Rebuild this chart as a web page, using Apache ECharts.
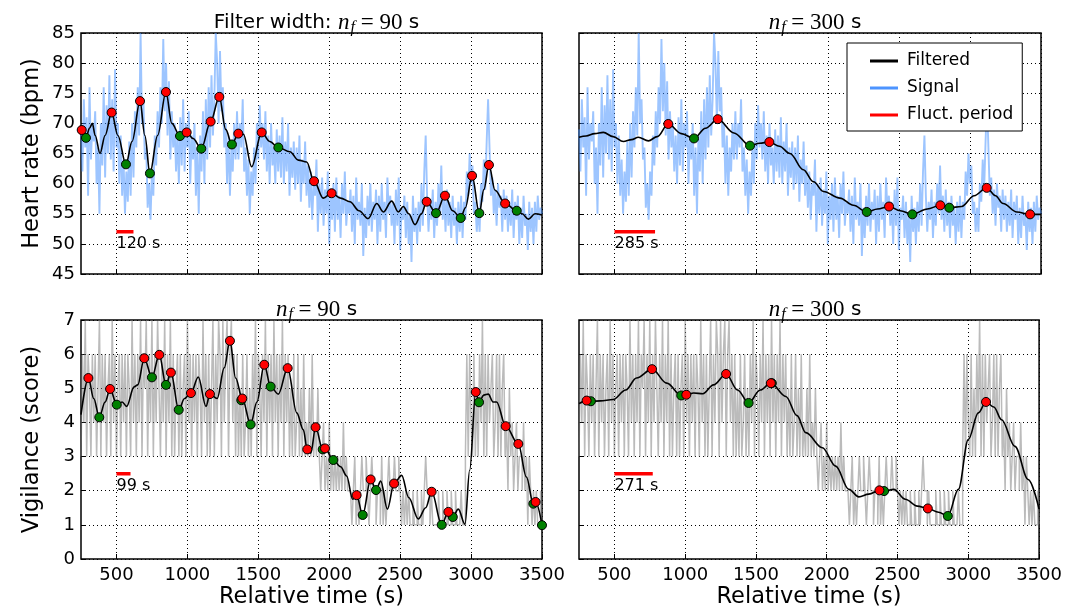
<!DOCTYPE html>
<html>
<head>
<meta charset="utf-8">
<script src="https://cdn.jsdelivr.net/npm/echarts@6/dist/echarts.min.js"></script>
<style>
  html, body { margin: 0; padding: 0; background: #fff; }
  #chart { width: 1065px; height: 610px; }
</style>
</head>
<body>
<div id="chart"></div>
<script>
// raw signals, one sample every 10 s starting at t = 250 s
var sigStart = 250;
var sigStep = 10;

var hrSignal = [
  69,62,74,66,71,58,76,64,70,67,
  72,60,66,55,70,63,76,61,73,65,
  78,64,74,62,79,66,70,60,68,58,
  64,55,62,57,67,58,70,61,72,66,
  76,68,85,70,74,64,66,56,60,54,
  62,58,68,63,72,66,76,70,84,72,
  80,68,77,64,72,66,70,62,68,60,
  71,63,74,62,70,66,72,60,68,64,
  70,58,66,55,68,62,72,60,74,64,
  76,66,78,68,74,85,80,70,82,72,
  76,66,70,60,68,58,66,62,70,64,
  72,64,70,66,74,62,66,58,64,55,
  62,58,66,60,70,64,73,66,70,64,
  72,62,68,60,70,63,66,60,69,62,
  68,61,71,60,67,62,70,58,66,61,
  67,59,66,60,68,57,64,60,67,58,
  63,56,62,54,60,58,64,52,60,55,
  61,53,59,55,62,50,58,54,60,52,
  61,54,58,51,60,55,62,53,57,55,
  59,52,58,50,61,54,57,53,60,48,
  56,51,58,53,60,52,57,54,59,50,
  58,52,60,54,57,51,61,55,58,53,
  57,50,59,53,61,49,56,54,58,51,
  57,50,55,47,58,52,56,50,57,52,
  60,53,62,68,58,52,57,54,59,51,
  57,53,60,55,63,54,58,52,59,53,
  57,51,58,53,56,50,57,52,58,51,
  57,54,62,58,65,60,63,55,57,52,
  56,52,60,57,64,59,67,74,66,58,
  61,55,59,53,60,56,58,52,59,54,
  58,52,57,53,59,51,57,54,58,50,
  56,51,58,53,55,49,57,52,56,50,
  57,52,58,54,56,55
];

var vigSignal = [
  3,6,4,7,3,6,5,3,6,4,
  6,3,5,7,3,6,4,6,3,5,
  6,3,7,4,6,3,5,6,3,6,
  4,6,3,6,5,3,7,4,6,3,
  6,4,7,3,6,5,7,3,6,4,
  7,3,6,4,7,5,3,6,4,7,
  3,6,4,7,3,6,3,5,6,3,
  6,3,5,6,3,7,4,6,3,6,
  4,6,3,6,5,3,7,4,6,3,
  6,3,5,7,3,6,4,7,6,3,
  7,4,6,7,3,6,7,4,6,3,
  6,3,5,3,6,3,4,6,3,5,
  3,6,4,7,3,6,5,3,6,4,
  7,3,6,4,6,3,7,4,6,3,
  6,4,7,3,6,4,6,3,5,3,
  6,3,4,6,3,5,3,6,3,4,
  3,5,3,6,3,4,3,5,3,2,
  3,4,2,3,2,4,2,3,2,3,
  2,3,2,3,2,4,2,3,2,2,
  2,1,2,3,1,2,1,2,3,2,
  2,3,2,1,2,3,2,2,1,2,
  2,1,3,1,2,1,2,3,2,2,
  2,3,2,2,3,2,1,2,1,2,
  1,2,1,1,2,1,1,2,1,1,
  2,1,2,3,2,2,1,2,1,1,
  1,1,2,1,1,2,1,1,2,1,
  1,2,1,1,2,1,1,1,2,1,
  1,3,6,3,6,4,3,6,3,5,
  3,6,4,7,3,6,3,6,4,5,
  6,3,4,6,3,6,3,5,6,3,
  4,2,5,3,4,2,3,4,2,3,
  3,2,4,2,3,1,3,2,1,2,
  1,2,1,1,2,1
];

// filtered curves [time, value]
var hrFilt90 = [
  [250,69.2],[285,67.6],[310,69.2],[330,70],[350,68],[384,65.0],[420,68],[466,71.8],
  [510,68],[567,63.2],[610,67],[666,73.7],[700,68],[736,61.7],[790,68],[849,75.2],
  [890,70],[948,67.9],[995,68.5],[1040,67.5],[1098,65.8],[1164,70.3],[1225,74.4],
  [1270,69],[1314,66.5],[1359,68.3],[1395,68.2],[1453,62.8],[1524,68.5],[1580,67],
  [1641,66.0],[1723,65.3],[1782,63.9],[1841,63.6],[1893,60.4],[1958,57.6],[2017,58.4],
  [2080,57.6],[2146,57.0],[2210,55.5],[2275,54.2],[2335,56.7],[2381,55.3],[2440,57.1],
  [2487,55.3],[2522,56.2],[2560,55],[2605,53.2],[2650,55],[2687,57.0],[2753,55.1],
  [2816,58.0],[2870,55.5],[2927,54.3],[2960,56],[3007,61.3],[3058,55.1],[3090,59],
  [3126,63.1],[3169,58.9],[3240,56.7],[3322,55.5],[3360,55],[3404,54.1],[3451,55],[3500,54.8]
];
var hrFilt300 = [
  [250,67.7],[300,67.9],[360,68.3],[421,68.5],[490,67.8],[562,67.0],[620,67.3],[667,67.7],
  [738,67.1],[800,67.8],[878,69.9],[970,68.3],[1059,67.5],[1140,69.2],[1226,70.7],
  [1340,68.4],[1453,66.3],[1520,66.7],[1589,66.9],[1660,66.2],[1734,65.0],[1828,62.3],
  [1900,60.3],[1969,58.7],[2086,57.6],[2180,56.4],[2274,55.3],[2350,55.8],[2431,56.2],
  [2510,55.5],[2595,54.9],[2700,55.8],[2792,56.4],[2855,56.0],[2942,56.2],[3030,58.0],
  [3118,59.3],[3180,58.0],[3233,56.7],[3330,55.3],[3423,54.9],[3500,54.9]
];
var vigFilt90 = [
  [250,4.23],[302,5.30],[340,4.7],[379,4.15],[420,4.6],[455,4.98],[502,4.52],[540,4.6],
  [572,4.47],[624,5.04],[650,5.1],[696,5.88],[750,5.32],[802,5.98],[849,5.10],[884,5.46],
  [939,4.37],[980,4.7],[1025,4.86],[1077,5.33],[1131,4.47],[1159,4.83],[1210,4.7],
  [1260,5.6],[1300,6.39],[1340,5.3],[1387,4.70],[1446,3.94],[1490,4.6],[1542,5.69],
  [1587,5.05],[1641,4.83],[1707,5.59],[1771,4.28],[1817,3.79],[1845,3.21],[1870,3.1],
  [1904,3.86],[1954,3.21],[1970,3.24],[2029,2.90],[2080,2.7],[2123,2.43],[2165,1.75],
  [2193,1.87],[2236,1.29],[2292,2.33],[2330,2.02],[2363,2.28],[2410,1.46],[2457,2.21],
  [2511,2.45],[2560,1.8],[2628,1.17],[2680,1.5],[2722,1.97],[2793,1.00],[2840,1.38],
  [2871,1.23],[2910,1.46],[2957,1.02],[2990,2.6],[3033,4.89],[3056,4.59],[3090,4.8],
  [3121,4.83],[3155,4.6],[3180,4.6],[3244,3.89],[3333,3.37],[3390,2.4],[3439,1.62],
  [3455,1.67],[3500,0.99]
];
var vigFilt300 = [
  [250,4.55],[304,4.64],[334,4.62],[400,4.63],[491,4.67],[580,4.95],[656,5.30],[766,5.56],
  [870,5.15],[972,4.79],[1008,4.81],[1060,4.86],[1125,4.84],[1200,5.1],[1289,5.42],
  [1370,4.95],[1448,4.57],[1530,4.95],[1605,5.15],[1711,4.76],[1790,4.2],[1852,3.70],
  [1969,3.26],[2063,2.72],[2156,2.04],[2227,1.82],[2297,1.90],[2372,2.01],[2405,1.99],
  [2473,2.04],[2555,1.75],[2640,1.55],[2714,1.48],[2790,1.37],[2855,1.26],[2930,2.04],
  [3000,3.5],[3071,4.28],[3125,4.60],[3180,4.45],[3235,4.08],[3329,3.30],[3423,2.33],[3500,1.46]
];

// detected maxima (red) and minima (green)
var hrMax90 = [[255,68.9],[466,71.8],[666,73.7],[849,75.2],[995,68.5],[1164,70.3],[1225,74.4],
  [1359,68.3],[1524,68.5],[1893,60.4],[2017,58.4],[2687,57.0],[2816,58.0],[3007,61.3],[3126,63.1],[3240,56.7]];
var hrMin90 = [[285,67.6],[567,63.2],[736,61.7],[948,67.9],[1098,65.8],[1314,66.5],[1641,66.0],
  [2753,55.1],[2927,54.3],[3058,55.1],[3322,55.5]];
var hrMax300 = [[878,69.9],[1226,70.7],[1589,66.9],[2431,56.2],[2792,56.4],[3118,59.3],[3423,54.9]];
var hrMin300 = [[1059,67.5],[1453,66.3],[2274,55.3],[2595,54.9],[2855,56.0]];
var vigMax90 = [[302,5.30],[455,4.98],[696,5.88],[802,5.98],[884,5.46],[1025,4.86],[1159,4.83],
  [1300,6.39],[1387,4.70],[1542,5.69],[1707,5.59],[1845,3.21],[1904,3.86],[1970,3.24],[2193,1.87],
  [2292,2.33],[2457,2.21],[2722,1.97],[2840,1.38],[3033,4.89],[3244,3.89],[3333,3.37],[3455,1.67]];
var vigMin90 = [[379,4.15],[502,4.52],[750,5.32],[849,5.10],[939,4.37],[1380,4.65],[1446,3.94],
  [1587,5.05],[1954,3.21],[2029,2.90],[2236,1.29],[2330,2.02],[2793,1.00],[2871,1.23],[3056,4.59],
  [3439,1.62],[3500,0.99]];
var vigMax300 = [[304,4.64],[766,5.56],[1008,4.81],[1289,5.42],[1605,5.15],[2372,2.01],[2714,1.48],[3125,4.60]];
var vigMin300 = [[334,4.62],[972,4.79],[1448,4.57],[1612,5.15],[2405,1.99],[2855,1.26]];

// fluctuation period bars
var periodStart = 500;
var periodLen = [120, 285, 99, 271];
var periodLevel = [52, 52, 2.5, 2.5];

var xTicks = [500, 1000, 1500, 2000, 2500, 3000, 3500];
var titles = ['90', '300', '90', '300'];

var sans = 'DejaVu Sans';
var chart = echarts.init(document.getElementById('chart'));

function pairs(values) {
  return values.map(function (v, i) { return [sigStart + i * sigStep, v]; });
}
function plain(v) { return String(v); }

var grids = [
  { left: 81, top: 33, width: 461, height: 241 },
  { left: 579, top: 33, width: 462, height: 241 },
  { left: 81, top: 320, width: 461, height: 240 },
  { left: 579, top: 320, width: 462, height: 240 }
].map(function (g) {
  g.show = true; g.borderColor = '#000'; g.borderWidth = 1.5; g.backgroundColor = 'transparent';
  return g;
});

var xAxes = [0, 1, 2, 3].map(function (g) {
  return {
    type: 'value', gridIndex: g, min: 250, max: 3500,
    axisLine: { show: false },
    axisTick: { inside: true, length: 5, customValues: xTicks, lineStyle: { color: '#000' } },
    axisLabel: { show: g >= 2, customValues: xTicks, formatter: plain, fontSize: 18, color: '#000', margin: 7, fontFamily: sans },
    splitLine: { show: true, lineStyle: { color: '#000', type: [1, 3], width: 1 } },
    name: g >= 2 ? 'Relative time (s)' : '',
    nameLocation: 'middle', nameGap: 27,
    nameTextStyle: { fontSize: 22.5, color: '#000', fontFamily: sans }
  };
});

var yAxes = [0, 1, 2, 3].map(function (g) {
  var top = g < 2;
  return {
    type: 'value', gridIndex: g,
    min: top ? 45 : 0, max: top ? 85 : 7, interval: top ? 5 : 1,
    axisLine: { show: false },
    axisTick: { inside: true, length: 5, lineStyle: { color: '#000' } },
    axisLabel: { show: g % 2 === 0, formatter: plain, fontSize: 18, color: '#000', margin: 6, fontFamily: sans },
    splitLine: { show: true, lineStyle: { color: '#000', type: [1, 3], width: 1 } },
    name: g === 0 ? 'Heart rate (bpm)' : (g === 2 ? 'Vigilance (score)' : ''),
    nameLocation: 'middle', nameGap: 37,
    nameTextStyle: { fontSize: 22.5, color: '#000', fontFamily: sans }
  };
});

var titleRich = {
  a: { fontFamily: sans, fontSize: 20, fontWeight: 'normal', color: '#000' },
  n: { fontFamily: 'Liberation Serif', fontStyle: 'italic', fontWeight: 'normal', fontSize: 23, color: '#000' },
  f: { fontFamily: 'Liberation Serif', fontStyle: 'italic', fontWeight: 'normal', fontSize: 16, color: '#000', padding: [10, 0, 0, 1] },
  e: { fontFamily: 'Liberation Serif', fontWeight: 'normal', fontSize: 23, color: '#000' }
};
var titleList = [0, 1, 2, 3].map(function (g) {
  var pre = g === 0 ? '{a|Filter width: }' : '';
  return {
    text: pre + '{n|n}{f|f}{e| = ' + titles[g] + '}{a| s}',
    left: grids[g].left + grids[g].width / 2,
    top: g < 2 ? 5 : 292,
    textAlign: 'center',
    textStyle: { rich: titleRich, fontSize: 20, fontWeight: 'normal' }
  };
});

var filt = [hrFilt90, hrFilt300, vigFilt90, vigFilt300];
var maxs = [hrMax90, hrMax300, vigMax90, vigMax300];
var mins = [hrMin90, hrMin300, vigMin90, vigMin300];

var series = [];
[0, 1, 2, 3].forEach(function (g) {
  var top = g < 2;
  series.push({
    name: top ? 'Signal' : 'Vigilance signal',
    type: 'line', xAxisIndex: g, yAxisIndex: g,
    data: pairs(top ? hrSignal : vigSignal),
    step: top ? false : 'end',
    symbol: 'none', silent: true, z: 1,
    color: top ? '#3d8bff' : '#777',
    lineStyle: top
      ? { width: 1.9, color: 'rgba(60,140,255,0.5)', join: 'bevel' }
      : { width: 1.5, color: 'rgba(120,120,120,0.5)', join: 'bevel' }
  });
  series.push({
    name: 'Filtered', type: 'line', xAxisIndex: g, yAxisIndex: g,
    data: filt[g], smooth: 0.35, smoothMonotone: 'x',
    symbol: 'none', z: 3, color: '#000',
    lineStyle: { width: 1.6, color: '#000' }
  });
  series.push({
    name: 'Fluct. period', type: 'line', xAxisIndex: g, yAxisIndex: g,
    data: [[periodStart, periodLevel[g]], [periodStart + periodLen[g], periodLevel[g]]],
    symbol: 'none', z: 3, color: '#ff0000',
    lineStyle: { width: 3.5, color: '#ff0000' }
  });
  series.push({
    name: 'period label', type: 'scatter', xAxisIndex: g, yAxisIndex: g,
    data: [[periodStart, periodLevel[g]]], symbolSize: 0, z: 4, silent: true,
    itemStyle: { opacity: 1 },
    label: { show: true, position: 'bottom', distance: 4, align: 'left',
      formatter: periodLen[g] + ' s', fontSize: 16, color: '#000', fontFamily: sans }
  });
  series.push({
    name: 'minima', type: 'scatter', xAxisIndex: g, yAxisIndex: g,
    data: mins[g], symbolSize: 9, z: 5,
    itemStyle: { color: '#008000', borderColor: '#000', borderWidth: 1, opacity: 1 }
  });
  series.push({
    name: 'maxima', type: 'scatter', xAxisIndex: g, yAxisIndex: g,
    data: maxs[g], symbolSize: 9, z: 6,
    itemStyle: { color: '#ff0000', borderColor: '#000', borderWidth: 1, opacity: 1 }
  });
});

var option = {
  animation: false,
  backgroundColor: '#fff',
  textStyle: { fontFamily: sans },
  title: titleList,
  legend: {
    data: [
      { name: 'Filtered', itemStyle: { color: '#000' } },
      { name: 'Signal', itemStyle: { color: '#4d94ff' } },
      { name: 'Fluct. period', itemStyle: { color: '#ff0000' } }
    ],
    orient: 'vertical', left: 847, top: 43,
    padding: [8, 9, 6, 23], itemGap: 7,
    icon: 'rect', itemWidth: 28, itemHeight: 3,
    backgroundColor: '#fff', borderColor: '#000', borderWidth: 1, borderRadius: 0,
    textStyle: { fontSize: 17, color: '#000', fontFamily: sans, lineHeight: 20, padding: [0, 0, 0, 4] },
    selectedMode: false, z: 10
  },
  grid: grids,
  xAxis: xAxes,
  yAxis: yAxes,
  series: series
};

chart.setOption(option);
</script>
</body>
</html>
